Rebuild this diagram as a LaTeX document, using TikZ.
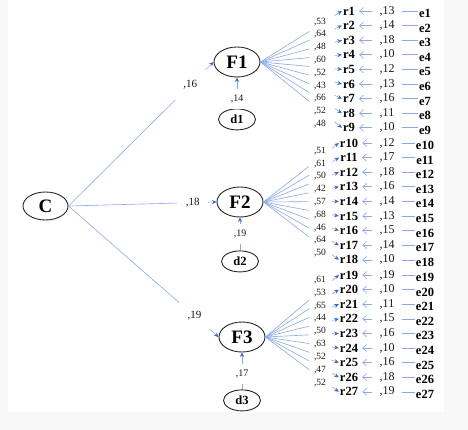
\documentclass[tikz,border=0pt]{standalone}
\usepackage{fontspec}
\setmainfont{Liberation Serif}
\usetikzlibrary{arrows.meta, positioning, calc, shapes.geometric}
\definecolor{linkblue}{HTML}{8EA8E6}
\definecolor{tipblue}{HTML}{3A66CC}
\definecolor{framebg}{HTML}{F8F8F8}

\begin{document}
\begin{tikzpicture}[
    x=1pt, y=-1pt,
    every node/.style={font=\rmfamily},
    latent/.style={
        ellipse, draw=black!85, line width=0.9pt, inner sep=0pt,
        minimum width=46pt, minimum height=30pt,
        font=\fontsize{19}{20}\selectfont\bfseries
    },
    resid/.style={
        ellipse, draw=black!85, line width=0.9pt, inner sep=0pt,
        minimum width=37pt, minimum height=21pt,
        font=\fontsize{12.5}{13}\selectfont\bfseries
    },
    item/.style={inner sep=1pt, font=\fontsize{12.5}{14}\selectfont\bfseries},
    link/.style={linkblue, line width=0.6pt},
    flow/.style={link, -{Stealth[length=4.5pt, width=4pt, color=tipblue]}},
    errflow/.style={link, shorten >=3pt, -{Straight Barb[length=4pt, width=7pt]}},
    coef/.style={fill=white, text=black!90, inner sep=0pt, font=\fontsize{12}{13}\selectfont},
    wide/.style={coef, minimum width=31pt, minimum height=30pt, font=\fontsize{11}{12}\selectfont},
    tall/.style={coef, minimum width=14pt, minimum height=20pt, font=\fontsize{10}{11}\selectfont},
    load/.style={inner sep=0pt, text=black!90, font=\fontsize{9.5}{10}\selectfont},
]

% ===== Frame =====
\fill[framebg] (0,0) rectangle (468,430);
\fill[white] (8,0) rectangle (444,412);

% ===== Latent variables =====
\node[latent, minimum width=45pt, minimum height=28pt] (C) at (45.5,206) {C};
\node[latent] (F1) at (237,62) {F1};
\node[latent] (F2) at (240,202) {F2};
\node[latent] (F3) at (242,337) {F3};

% disturbances under each factor
\node[resid, below=31pt of F1] (d1) {d1};
\node[resid, below=33pt of F2] (d2) {d2};
\node[resid, below=37pt of F3] (d3) {d3};

% second order paths
\draw[flow] (C.east) -- node[wide, pos=0.84] {,16} (F1.west);
\draw[flow] (C.east) -- node[wide, pos=0.84] {,18} (F2.west);
\draw[flow] (C.east) -- node[wide, pos=0.84] {,19} (F3.west);

\draw[flow] (d1) -- node[tall, pos=0.32] {,14} (F1);
\draw[flow] (d2) -- node[tall, pos=0.5] {,19} (F2);
\draw[flow] (d3) -- node[tall, pos=0.43] {,17} (F3);

% ===== Items r1--r27 with their errors =====
\foreach \n/\ld/\er in {
    1/53/13, 2/64/14, 3/48/18, 4/60/10, 5/52/12, 6/43/13, 7/66/16, 8/52/11, 9/48/10,
    10/51/12, 11/61/17, 12/50/18, 13/42/16, 14/57/14, 15/68/13, 16/46/15, 17/64/14, 18/50/10,
    19/61/19, 20/53/10, 21/65/11, 22/44/15, 23/50/16, 24/63/10, 25/52/16, 26/47/18, 27/52/19} {
    \pgfmathtruncatemacro\g{div(\n-1,9)+1}
    \pgfmathtruncatemacro\k{mod(\n-1,9)}
    \pgfmathsetmacro\ry{11+132*(\g-1)+14.6*\k}
    \pgfmathsetmacro\ly{11+132*(\g-1)+58.4+3.5-2.75*(\g-1)+12.8*(\k-4)}
    \node[item] (r\n) at (349,\ry) {r\n};
    \node[item] (e\n) at (425,\ry+2.5) {e\n};
    \draw[errflow] (e\n.west |- r\n.east) -- node[coef, minimum width=30pt] {,\er} (r\n.east);
    % loading, line broken round its value
    \draw[link] (F\g.east) -- ($(F\g.east)!0.6!(r\n.west)$);
    \draw[flow] ($(F\g.east)!0.91!(r\n.west)$) -- (r\n.west);
    \node[load] (l\n) at (320,\ly) {,\ld};
}

\end{tikzpicture}
\end{document}
